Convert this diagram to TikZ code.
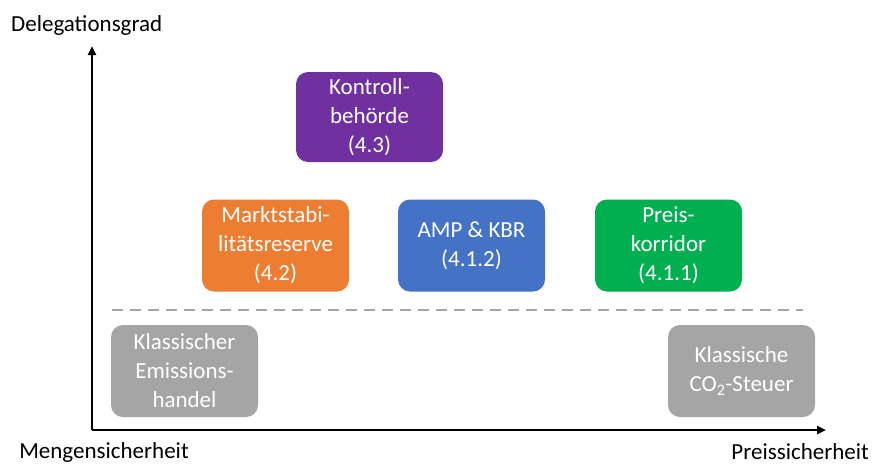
\documentclass[tikz,border=0pt]{standalone}
\usepackage{fontspec}
\setmainfont{Carlito}
\usetikzlibrary{arrows.meta}
\definecolor{cpurple}{HTML}{7030A0}
\definecolor{corange}{HTML}{ED7D31}
\definecolor{cblue}{HTML}{4472C4}
\definecolor{cgreen}{HTML}{00B050}
\definecolor{cgrey}{HTML}{A5A5A5}
\begin{document}
\begin{tikzpicture}[x=1pt,y=-1pt,
  box/.style={rounded corners=12pt, minimum width=147pt, minimum height=92pt,
    text=white, align=center, font=\fontsize{23}{29}\selectfont, inner sep=0pt},
  axis/.style={line width=2.4pt, -{Triangle[length=9pt,width=8pt]}},
  lbl/.style={font=\fontsize{23}{27}\selectfont, inner sep=0pt}]
\useasboundingbox (0,0) rectangle (875,464);
\coordinate (O) at (92,430);
\coordinate (Y) at (92,46);
\coordinate (X) at (826,430);
\draw[axis] (O) -- (Y);
\draw[axis] (O) -- (X);
\node[lbl, anchor=west] (dg) at (11,25) {Delegationsgrad};
\node[lbl] (ms) at (104,452) {Mengensicherheit};
\node[lbl, anchor=east] (ps) at (869,452) {Preissicherheit};
\coordinate (d1) at (112,310);
\coordinate (d2) at (803,310);
\draw[cgrey, line width=2.6pt, dash pattern=on 11pt off 7pt] (d1) -- (d2);
\node[box, fill=cpurple, minimum height=90pt] (kb) at (369.5,117) {Kontroll-\\behörde\\(4.3)};
\node[box, fill=corange] (msr) at (275.5,245.5) {Marktstabi-\\litätsreserve\\(4.2)};
\node[box, fill=cblue] (amp) at (471.5,245.5) {AMP \& KBR\\(4.1.2)};
\node[box, fill=cgreen] (pk) at (668.5,245.5) {Preis-\\korridor\\(4.1.1)};
\node[box, fill=cgrey] (eh) at (184.5,371) {Klassischer\\Emissions-\\handel};
\node[box, fill=cgrey] (co) at (741.5,371) {Klassische\\CO\textsubscript{2}-Steuer};
\end{tikzpicture}
\end{document}
